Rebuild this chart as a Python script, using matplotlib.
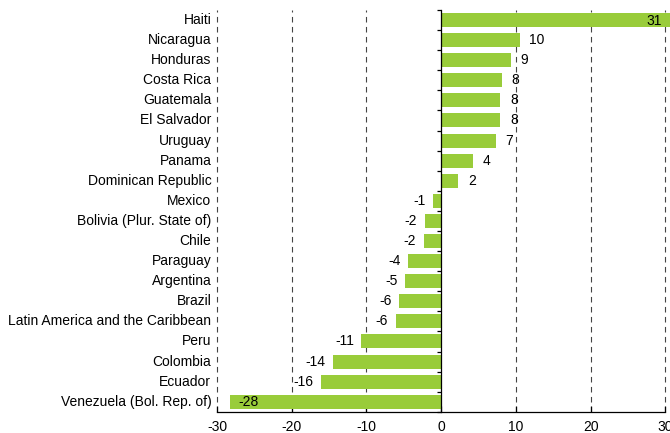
import numpy as np
import matplotlib.pyplot as plt
from matplotlib.transforms import blended_transform_factory

plt.rcParams['font.family'] = ['Liberation Sans', 'DejaVu Sans']

countries = ["Haiti", "Nicaragua", "Honduras", "Costa Rica", "Guatemala", "El Salvador",
             "Uruguay", "Panama", "Dominican Republic", "Mexico", "Bolivia (Plur. State of)",
             "Chile", "Paraguay", "Argentina", "Brazil", "Latin America and the Caribbean",
             "Peru", "Colombia", "Ecuador", "Venezuela (Bol. Rep. of)"]
values = [31.0, 10.5, 9.3, 8.1, 7.9, 7.9, 7.3, 4.3, 2.3, -1.1, -2.2, -2.35, -4.4, -4.8,
          -5.6, -6.1, -10.7, -14.5, -16.1, -28.3]
labels = ["31", "10", "9", "8", "8", "8", "7", "4", "2", "-1", "-2", "-2", "-4", "-5",
          "-6", "-6", "-11", "-14", "-16", "-28"]
xticks = [-30, -20, -10, 0, 10, 20, 30]

green = '#99CC3A'

fig = plt.figure(figsize=(6.7, 4.33), dpi=100)
ax = fig.add_axes([0.324, 0.049, 0.669, 0.928])

y = np.arange(len(countries))
ax.barh(y, values, height=0.7, color=green, zorder=2, clip_on=False)
ax.set_ylim(len(countries) - 0.5, -0.5)
ax.set_xlim(-30, 30)

# dashed gridlines
for xv in xticks:
    if xv != 0:
        ax.axvline(xv, color='#444444', lw=0.8, ls=(0, (5, 4)), zorder=1, clip_on=False)

# spines
for s in ['top', 'right']:
    ax.spines[s].set_visible(False)
ax.spines['left'].set_position(('data', 0))
ax.spines['left'].set_linewidth(0.9)
ax.spines['bottom'].set_linewidth(0.9)
ax.spines['left'].set_zorder(3)

ax.set_xticks(xticks)
ax.set_xticklabels([str(t) for t in xticks], fontsize=10)
ax.tick_params(axis='x', direction='in', length=4, width=0.9, pad=6)

ax.set_yticks(np.arange(len(countries) + 1) - 0.5)
ax.set_yticklabels([])
ax.tick_params(axis='y', direction='out', length=3, width=0.9)

# category labels left of the plot
trans = blended_transform_factory(ax.transAxes, ax.transData)
for yi, name in zip(y, countries):
    ax.text(-0.013, yi, name, transform=trans, ha='right', va='center', fontsize=10)

# value labels
for yi, v, lab in zip(y, values, labels):
    if v >= 30:
        ax.text(v - 1.5, yi + 0.05, lab, ha='right', va='center', fontsize=10, zorder=4)
    elif v <= -25:
        ax.text(v + 1.2, yi, lab, ha='left', va='center', fontsize=10, zorder=4)
    elif v > 0:
        ax.text(v + 1.3, yi, lab, ha='left', va='center', fontsize=10, zorder=4)
    else:
        ax.text(v - 1.0, yi, lab, ha='right', va='center', fontsize=10, zorder=4)

fig.savefig('out.png', dpi=100)
